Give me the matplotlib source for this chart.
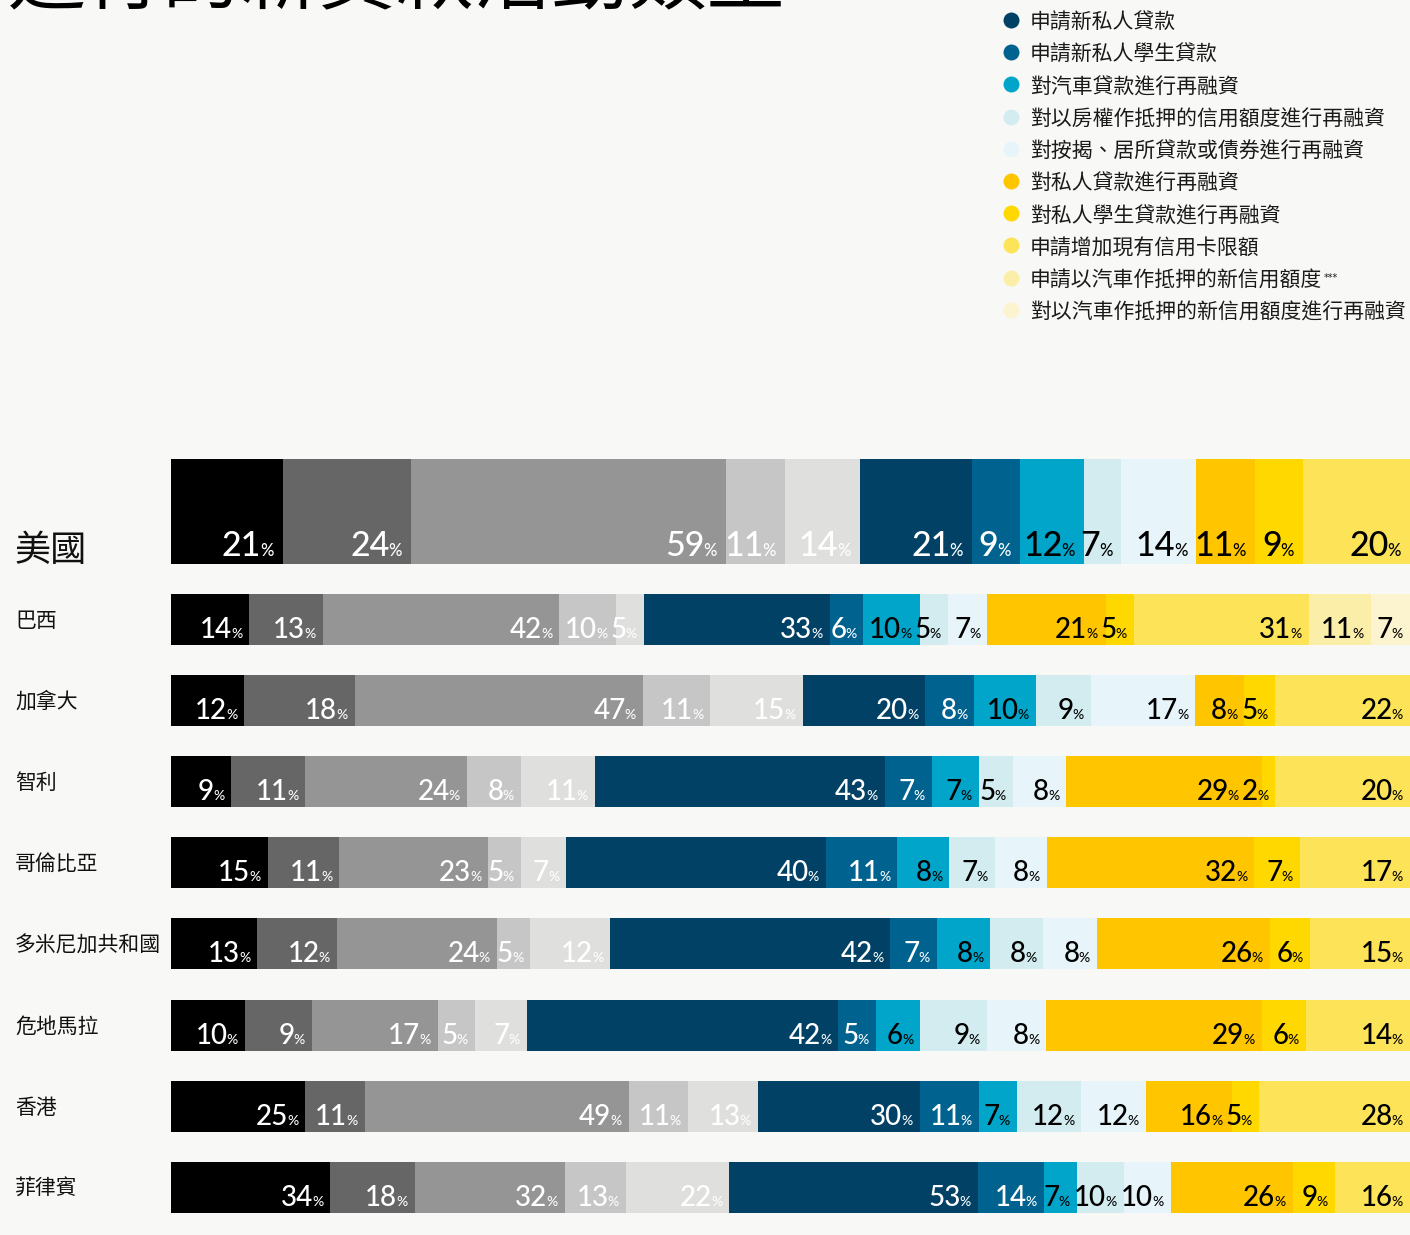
import matplotlib
matplotlib.use('Agg')
import matplotlib.pyplot as plt

plt.rcParams['font.family'] = ['Noto Sans CJK TC', 'DejaVu Sans']

title = '進行的新貸款活動類型'

countries = ['美國', '巴西', '加拿大', '智利', '哥倫比亞', '多米尼加共和國', '危地馬拉', '香港', '菲律賓']

categories = ['申請新信用卡', '申請新汽車貸款', '申請新按揭或居所貸款', '申請新信用額度',
              '申請以房權作抵押的新信用額度',
              '申請新私人貸款', '申請新私人學生貸款', '對汽車貸款進行再融資',
              '對以房權作抵押的信用額度進行再融資', '對按揭、居所貸款或債券進行再融資',
              '對私人貸款進行再融資', '對私人學生貸款進行再融資', '申請增加現有信用卡限額',
              '申請以汽車作抵押的新信用額度', '對以汽車作抵押的新信用額度進行再融資']

colors = ['#000000', '#666666', '#959595', '#c6c6c6', '#dfe0dd',
          '#004165', '#00628f', '#00a5c9', '#d3ecf0', '#e7f5fa',
          '#ffc600', '#ffd800', '#fce358', '#fbeea8', '#fcf3cf']

# values per country, None = not asked
us = [21, 24, 59, 11, 14, 21, 9, 12, 7, 14, 11, 9, 20, None, None]
brazil = [14, 13, 42, 10, 5, 33, 6, 10, 5, 7, 21, 5, 31, 11, 7]
canada = [12, 18, 47, 11, 15, 20, 8, 10, 9, 17, 8, 5, 22, None, None]
chile = [9, 11, 24, 8, 11, 43, 7, 7, 5, 8, 29, 2, 20, None, None]
colombia = [15, 11, 23, 5, 7, 40, 11, 8, 7, 8, 32, 7, 17, None, None]
dominican = [13, 12, 24, 5, 12, 42, 7, 8, 8, 8, 26, 6, 15, None, None]
guatemala = [10, 9, 17, 5, 7, 42, 5, 6, 9, 8, 29, 6, 14, None, None]
hongkong = [25, 11, 49, 11, 13, 30, 11, 7, 12, 12, 16, 5, 28, None, None]
philippines = [34, 18, 32, 13, 22, 53, 14, 7, 10, 10, 26, 9, 16, None, None]

rows = [us, brazil, canada, chile, colombia, dominican, guatemala, hongkong, philippines]

bg = '#f8f9f6'
num_font = 'Lato'

fig = plt.figure(figsize=(14.1, 12.35), dpi=100, facecolor=bg)
lay = fig.add_axes([0, 0, 1, 1])
lay.set_xlim(0, 1410)
lay.set_ylim(1235, 0)
lay.axis('off')
ax = fig.add_axes([170.5 / 1410, 0, 1239.5 / 1410, 1])
ax.set_xlim(0, 1)
ax.set_ylim(1235, 0)
ax.axis('off')
ax.patch.set_alpha(0)

renderer = fig.canvas.get_renderer()

# title, mostly cut off by the top edge
lay.text(8, 3, title, fontsize=56, ha='left', va='baseline', color='black')

# legend
for k, name in enumerate(categories):
    y = 20 + 32.2 * (k - 5)
    lay.scatter([1011], [y], s=132, color=colors[k], linewidths=0)
    t = lay.text(1030, y + 3, name, fontsize=15, ha='left', va='center', color='#1a1a1a')
    if k == 13:
        bb = t.get_window_extent(renderer)
        x_end = lay.transData.inverted().transform((bb.x1, bb.y1))
        lay.text(x_end[0] + 1, x_end[1] + 3, '***', fontsize=7, ha='left', va='top',
                 color='#1a1a1a', family='DejaVu Sans')

tops = [459] + [594 + 81.1 * i for i in range(8)]
heights = [105] + [51] * 8

for r, vals in enumerate(rows):
    top = tops[r]
    h = heights[r]
    big = r == 0
    total = sum(v for v in vals if v is not None)
    if big:
        lay.text(15, top + h - 3, countries[r], fontsize=26, ha='left', va='baseline', color='#111111')
    else:
        lay.text(15, top + h / 2 + 1.5, countries[r], fontsize=15, ha='left', va='center', color='#111111')
    dx = 9 if big else 7
    dy = 8 if big else 7
    left = 0
    labels = []
    for k, v in enumerate(vals):
        if v is None:
            continue
        w = v / total
        ax.barh(top + h / 2, w, left=left, height=h, color=colors[k], linewidth=0)
        end = left + w
        tc = 'white' if k < 7 else '#000000'
        p = ax.annotate('%', xy=(end, top + h), xytext=(-dx, dy), textcoords='offset pixels',
                        ha='right', va='baseline', fontsize=12 if big else 10,
                        color=tc, family=num_font, fontweight='medium')
        pw = p.get_window_extent(renderer).width
        n = ax.annotate(str(v), xy=(end, top + h), xytext=(-dx - pw + 1, dy), textcoords='offset pixels',
                        ha='right', va='baseline', fontsize=24.5 if big else 20,
                        color=tc, family=num_font, fontweight='medium')
        nw = n.get_window_extent(renderer).width
        end_px = ax.transData.transform((end, 0))[0]
        labels.append([p, n, pw, nw, end_px, 0.0])
        left = end
    # push a label left when it would run into the next one
    for i in range(len(labels) - 2, -1, -1):
        nxt = labels[i + 1]
        nxt_left = nxt[4] - nxt[5] - dx - nxt[2] + 1 - nxt[3]
        cur = labels[i]
        cur_right = cur[4] - cur[5] - dx
        if cur_right > nxt_left - 3:
            cur[5] += cur_right - (nxt_left - 3)
            cur[0].xyann = (-dx - cur[5], dy)
            cur[1].xyann = (-dx - cur[2] + 1 - cur[5], dy)

fig.savefig('out.png', dpi=100, facecolor=bg)
